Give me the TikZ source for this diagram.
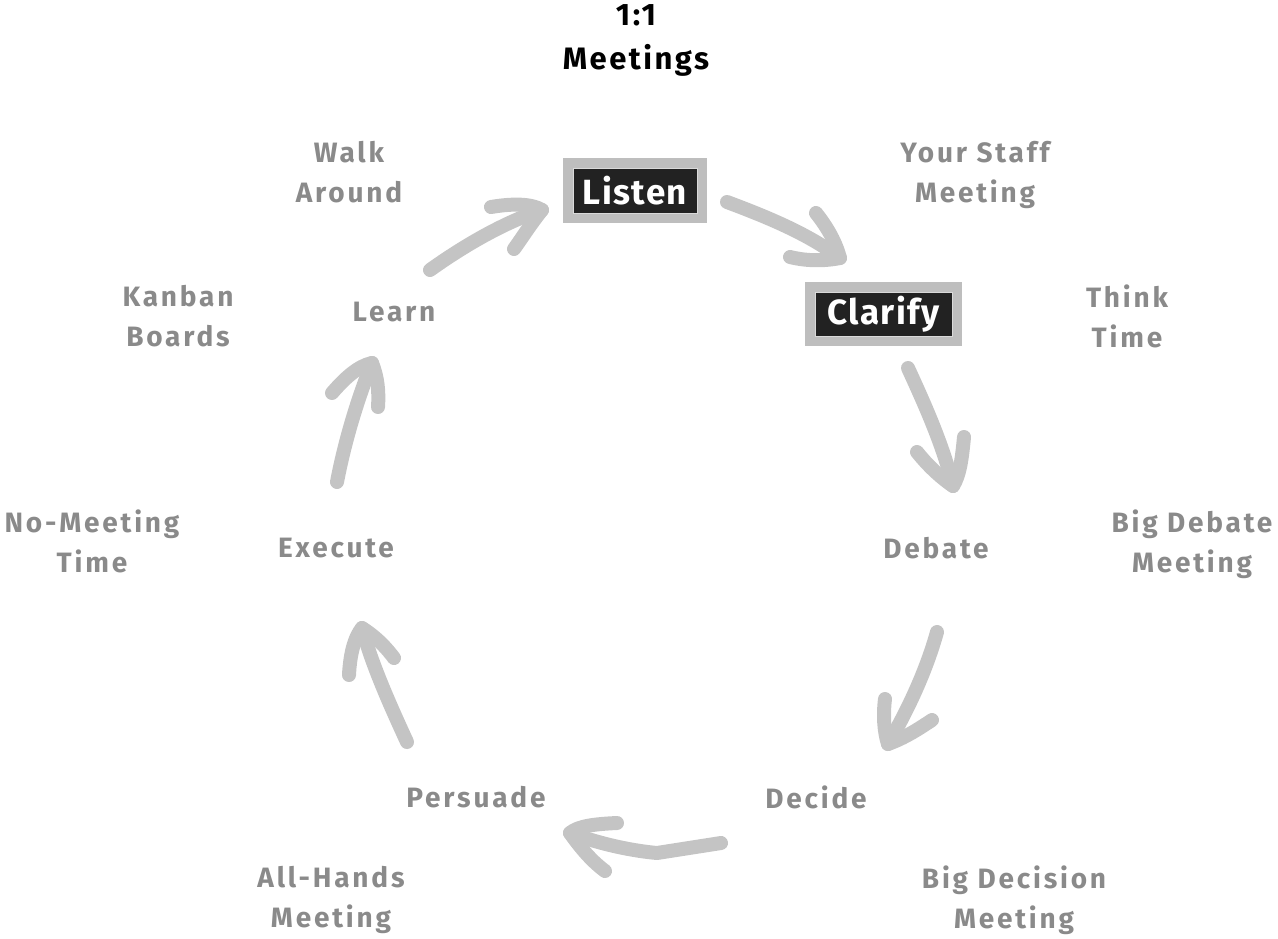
\documentclass[tikz,border=0pt]{standalone}
\usepackage{fontspec}
\setmainfont{Fira Sans}
\definecolor{txtgray}{RGB}{138,138,138}
\definecolor{arrgray}{RGB}{196,196,196}
\definecolor{boxgray}{RGB}{190,190,190}
\definecolor{boxdark}{RGB}{34,34,34}
\newcommand{\dsc}{\vphantom{g}}
\tikzset{
  lbl/.style={text=txtgray, font=\fontsize{28}{40}\selectfont\bfseries\addfontfeature{LetterSpace=10}, align=center, inner sep=0pt},
  toplbl/.style={text=black, font=\fontsize{31}{44}\selectfont\bfseries\addfontfeature{LetterSpace=8}, align=center, inner sep=0pt},
  keybox/.style={fill=boxdark, draw=boxgray, line width=10pt, text=white, font=\fontsize{35}{40}\selectfont\bfseries\addfontfeature{LetterSpace=4}, inner sep=0pt, outer sep=0pt},
  keyline/.style={draw=white!85!black, line width=0.8pt},
  arr/.style={draw=arrgray, line width=14pt, line cap=round, line join=round},
}
\begin{document}
\begin{tikzpicture}[x=1pt,y=-1pt]
\useasboundingbox (0,0) rectangle (1278,938);
% title
\node[toplbl] (one) at (636,40) {1:1\\Meetings};
% boxes
\node[keybox, minimum width=134pt, minimum height=55pt] (listen) at (635,190.5) {Listen};
\draw[keyline] (573,168) rectangle (697,213);
\node[keybox, minimum width=147pt, minimum height=54pt] (clarify) at (883.5,314) {Clarify};
\draw[keyline] (815,292) rectangle (952,336);
% cycle labels
\node[lbl] (learn) at (394,315) {Learn\dsc};
\node[lbl] (debate) at (936,551) {Debate\dsc};
\node[lbl] (execute) at (336,551) {Execute\dsc};
\node[lbl] (persuade) at (476,800) {Persuade\dsc};
\node[lbl] (decide) at (816,800) {Decide\dsc};
% outer labels
\node[lbl] (walk) at (349,175) {Walk\\Around\dsc};
\node[lbl] (staff) at (975,175) {Your Staff\\Meeting\dsc};
\node[lbl] (kanban) at (178,319) {Kanban\\Boards\dsc};
\node[lbl] (think) at (1127,319) {Think\\Time\dsc};
\node[lbl] (nomeet) at (92,544) {No-Meeting\\Time\dsc};
\node[lbl] (bigdeb) at (1192,544) {Big Debate\\Meeting\dsc};
\node[lbl] (allhands) at (331,900) {All-Hands\\Meeting\dsc};
\node[lbl] (bigdec) at (1014,900) {Big Decision\\Meeting\dsc};
% arrow coordinates
\coordinate (a1s) at (430,270); \coordinate (a1t) at (542,210);
\coordinate (a1l) at (491,207); \coordinate (a1r) at (514,249);
\coordinate (a2s) at (727,202); \coordinate (a2t) at (840,258);
\coordinate (a2l) at (816,213); \coordinate (a2r) at (790,257);
\coordinate (a3s) at (908,368); \coordinate (a3t) at (953,486);
\coordinate (a3l) at (964,437); \coordinate (a3r) at (917,452);
\coordinate (a4s) at (937,632); \coordinate (a4t) at (888,744);
\coordinate (a4l) at (885,699); \coordinate (a4r) at (932,720);
\coordinate (a5s) at (721,843); \coordinate (a5m) at (657,853); \coordinate (a5t) at (570,833);
\coordinate (a5l) at (617,823); \coordinate (a5r) at (605,871);
\coordinate (a6s) at (407,742); \coordinate (a6t) at (362,628);
\coordinate (a6l) at (349,675); \coordinate (a6r) at (394,658);
\coordinate (a7s) at (337,482); \coordinate (a7t) at (372,363);
\coordinate (a7l) at (332,393); \coordinate (a7r) at (378,407);
% arrows: Learn -> Listen
\draw[arr] (a1s) .. controls (465,245) and (505,222) .. (a1t);
\draw[arr] (a1l) .. controls (515,203) and (532,204) .. (a1t) .. controls (530,225) and (522,238) .. (a1r);
% Listen -> Clarify
\draw[arr] (a2s) .. controls (770,218) and (810,235) .. (a2t);
\draw[arr] (a2l) .. controls (828,228) and (836,243) .. (a2t) .. controls (820,262) and (802,260) .. (a2r);
% Clarify -> Debate
\draw[arr] (a3s) .. controls (925,405) and (943,445) .. (a3t);
\draw[arr] (a3l) .. controls (962,458) and (960,475) .. (a3t) .. controls (937,475) and (925,462) .. (a3r);
% Debate -> Decide
\draw[arr] (a4s) .. controls (925,675) and (905,715) .. (a4t);
\draw[arr] (a4l) .. controls (883,715) and (884,732) .. (a4t) .. controls (905,738) and (920,728) .. (a4r);
% Decide -> Persuade
\draw[arr] (a5s) -- (a5m) .. controls (625,850) and (595,842) .. (a5t);
\draw[arr] (a5l) .. controls (595,824) and (578,826) .. (a5t) .. controls (582,850) and (593,862) .. (a5r);
% Persuade -> Execute
\draw[arr] (a6s) .. controls (390,705) and (372,665) .. (a6t);
\draw[arr] (a6l) .. controls (350,655) and (354,638) .. (a6t) .. controls (378,638) and (388,650) .. (a6r);
% Execute -> Learn
\draw[arr] (a7s) .. controls (345,440) and (358,398) .. (a7t);
\draw[arr] (a7l) .. controls (345,378) and (358,366) .. (a7t) .. controls (378,378) and (379,392) .. (a7r);
\end{tikzpicture}
\end{document}
